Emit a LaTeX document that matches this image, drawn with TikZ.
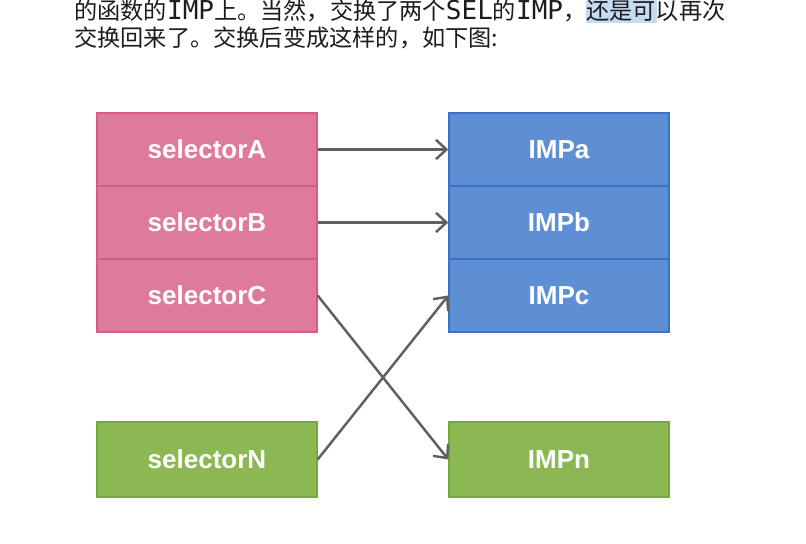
\documentclass[tikz,border=0pt]{standalone}
\usepackage{fontspec}
\usepackage{tikz}
\usetikzlibrary{arrows.meta}
\newfontfamily\cjkfont{Noto Sans CJK SC}
\newfontfamily\latfont{DejaVu Sans Mono}
\newfontfamily\boxfont{Liberation Sans}
\newcommand{\lat}[1]{{\latfont\fontsize{14.8}{16}\selectfont #1}}
\definecolor{pinkfill}{RGB}{222,123,155}
\definecolor{pinkline}{RGB}{214,92,132}
\definecolor{bluefill}{RGB}{94,143,212}
\definecolor{blueline}{RGB}{58,114,198}
\definecolor{greenfill}{RGB}{139,184,82}
\definecolor{greenline}{RGB}{118,168,60}
\definecolor{arrowgray}{RGB}{96,96,96}
\definecolor{selblue}{RGB}{196,219,242}
\definecolor{textdark}{RGB}{28,28,28}
\tikzset{
	cell/.style={minimum width=4.4cm,minimum height=1.46cm,line width=0.8pt,inner sep=0pt,
		text=white,font=\boxfont\bfseries\fontsize{14.8}{16}\selectfont},
	pinkcell/.style={cell,draw=pinkline,fill=pinkfill},
	bluecell/.style={cell,draw=blueline,fill=bluefill},
	greencell/.style={cell,draw=greenline,fill=greenfill,minimum height=1.5cm},
	swap/.style={line width=1.4pt,draw=arrowgray,-{Straight Barb[length=6pt,width=11pt,line width=1.4pt]}},
	para/.style={anchor=west,inner sep=0pt,text=textdark,font=\cjkfont\fontsize{13.2}{16}\selectfont}
}
\begin{document}
\begin{tikzpicture}[x=0.02cm,y=-0.02cm]
		\fill[white] (0,0) rectangle (806,544);
		\useasboundingbox (0,0) rectangle (806,544);
		\fill[selblue] (586,0) rectangle (657,23);
		\node[para] (line1) at (74,11) {的函数的\lat{IMP}上。当然，交换了两个\lat{SEL}的\lat{IMP}，还是可以再次};
		\node[para] (line2) at (74,38) {交换回来了。交换后变成这样的，如下图:};

		\node[pinkcell] (selA) at (207,149.5) {selectorA};
		\node[pinkcell] (selB) at (207,222.5) {selectorB};
		\node[pinkcell] (selC) at (207,295.5) {selectorC};
		\node[greencell] (selN) at (207,459.5) {selectorN};

		\node[bluecell] (impA) at (559,149.5) {IMPa};
		\node[bluecell] (impB) at (559,222.5) {IMPb};
		\node[bluecell] (impC) at (559,295.5) {IMPc};
		\node[greencell] (impN) at (559,459.5) {IMPn};

		\draw[swap] (selA) to (impA);
		\draw[swap] (selB) to (impB);
		\draw[swap] (selC.east) to (impN.west);
		\draw[swap] (selN.east) to (impC.west);
	\end{tikzpicture}
\end{document}
